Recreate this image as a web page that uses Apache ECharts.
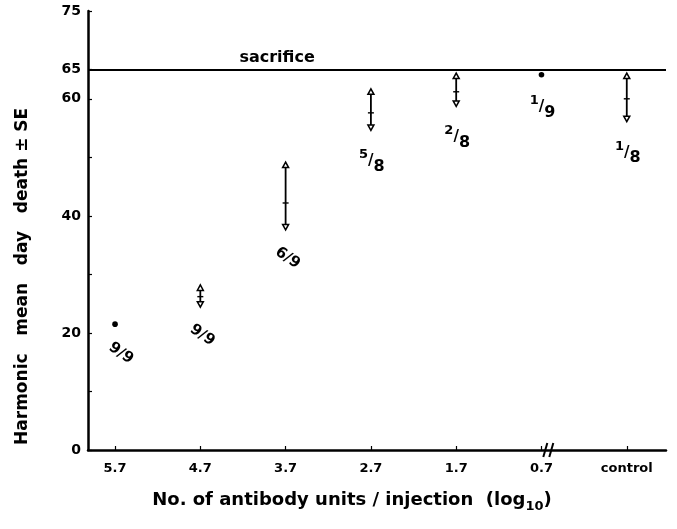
<!DOCTYPE html>
<html>
<head>
<meta charset="utf-8">
<script src="https://cdn.jsdelivr.net/npm/echarts@6/dist/echarts.min.js"></script>
<style>
  html, body { margin: 0; padding: 0; background: #fff; }
  #chart { width: 677px; height: 529px; }
</style>
</head>
<body>
<div id="chart"></div>
<script>
// ---- data ----
const categories = ['5.7', '4.7', '3.7', '2.7', '1.7', '0.7', 'control'];
const meanDay   = [21.5, 26.2, 42.2, 57.6, 61.2, 64.1, 60.0];
const lowSE     = [21.3, 24.4, 37.6, 54.6, 58.7, 63.8, 56.1];
const highSE    = [21.7, 28.2, 49.2, 61.7, 64.4, 64.4, 64.4];
const deadRatio = [['9','9'], ['9','9'], ['6','9'], ['5','8'], ['2','8'], ['1','9'], ['1','8']];
const yTickValues  = [0, 10, 20, 30, 40, 50, 60, 65, 75];
const yLabelValues = [0, 20, 40, 60, 65, 75];
const sacrificeDay = 65;

const FONT = '"DejaVu Sans"';
const chart = echarts.init(document.getElementById('chart'), null, { renderer: 'canvas' });

const seriesData = categories.map((c, i) => [i, meanDay[i], lowSE[i], highSE[i]]);

function renderItem(params, api) {
  const i = api.value(0);
  const top = api.coord([i, api.value(3)]);
  const mid = api.coord([i, api.value(1)]);
  const bot = api.coord([i, api.value(2)]);
  const x = mid[0];
  const children = [];
  const st = { stroke: '#000', lineWidth: 1.8, fill: null };
  if (bot[1] - top[1] < 4) {
    children.push({ type: 'circle', shape: { cx: x, cy: mid[1], r: 2.8 }, style: { fill: '#000' } });
  } else {
    children.push({ type: 'line', shape: { x1: x, y1: top[1] + 2, x2: x, y2: bot[1] - 2 }, style: st });
    children.push({ type: 'polygon', shape: { points: [[x, top[1]], [x - 3, top[1] + 5.5], [x + 3, top[1] + 5.5]] },
      style: { stroke: '#000', lineWidth: 1.5, fill: '#fff' } });
    children.push({ type: 'polygon', shape: { points: [[x, bot[1]], [x - 3, bot[1] - 5.5], [x + 3, bot[1] - 5.5]] },
      style: { stroke: '#000', lineWidth: 1.5, fill: '#fff' } });
    children.push({ type: 'line', shape: { x1: x - 3, y1: mid[1], x2: x + 3, y2: mid[1] }, style: { stroke: '#000', lineWidth: 1.4 } });
  }
  const fr = deadRatio[i];
  if (i < 3) {
    children.push({
      type: 'text',
      x: x + (i === 0 ? 6 : 2), y: bot[1] + 28,
      rotation: -0.6,
      style: { text: fr[0] + '/' + fr[1], fontFamily: FONT, fontWeight: 'bold', fontSize: 15,
        fill: '#000', align: 'center', verticalAlign: 'middle' }
    });
  } else {
    children.push({
      type: 'text',
      x: x + 1, y: bot[1] + 31,
      style: {
        text: '{n|' + fr[0] + '}{s|/}{d|' + fr[1] + '}',
        align: 'center', verticalAlign: 'middle', fill: '#000',
        rich: {
          n: { fontFamily: FONT, fontWeight: 'bold', fontSize: 13, verticalAlign: 'top', lineHeight: 26 },
          s: { fontFamily: FONT, fontWeight: 'bold', fontSize: 15, verticalAlign: 'middle', lineHeight: 26 },
          d: { fontFamily: FONT, fontWeight: 'bold', fontSize: 16, verticalAlign: 'bottom', lineHeight: 26 }
        }
      }
    });
  }
  return { type: 'group', children };
}

const option = {
  animation: false,
  backgroundColor: '#fff',
  grid: { left: 88, right: 11, top: 11, bottom: 79, containLabel: false },
  xAxis: {
    type: 'value',
    min: -0.317, max: 6.46,
    splitLine: { show: false },
    axisLine: { show: true, onZero: false, lineStyle: { color: '#000', width: 2.5 } },
    axisTick: { show: true, inside: true, length: 4, customValues: categories.map((c, i) => i), lineStyle: { color: '#000', width: 1.2 } },
    axisLabel: {
      show: true, customValues: categories.map((c, i) => i), margin: 12,
      formatter: v => categories[Math.round(v)] || '',
      color: '#000', fontFamily: FONT, fontWeight: 'bold', fontSize: 13
    },
    name: 'No. of antibody units / injection  (log{sub|10})',
    nameLocation: 'middle', nameGap: 37,
    nameTextStyle: {
      color: '#000', fontFamily: FONT, fontWeight: 'bold', fontSize: 18, padding: [0, 50, 0, 0],
      rich: { sub: { fontFamily: FONT, fontWeight: 'bold', fontSize: 13, verticalAlign: 'bottom', lineHeight: 26, padding: [10, 0, 0, 0] } }
    }
  },
  yAxis: {
    type: 'value',
    min: 0, max: 75,
    splitLine: { show: false },
    axisLine: { show: true, onZero: false, lineStyle: { color: '#000', width: 2.5 } },
    axisTick: { show: true, inside: true, length: 4, customValues: yTickValues, lineStyle: { color: '#000', width: 1.2 } },
    axisLabel: {
      show: true, customValues: yLabelValues, margin: 7,
      color: '#000', fontFamily: FONT, fontWeight: 'bold', fontSize: 14
    }
  },
  series: [{
    type: 'custom',
    renderItem,
    data: seriesData,
    encode: { x: 0, y: [1, 2, 3] },
    markLine: {
      silent: true, symbol: 'none',
      lineStyle: { color: '#000', width: 2, type: 'solid' },
      label: { show: false },
      data: [{ yAxis: sacrificeDay }]
    }
  }]
};
chart.setOption(option);

// decorations: axis break marks, sacrifice label, y axis title
const brk = chart.convertToPixel({ gridIndex: 0 }, [5.08, 0]);
const sac = chart.convertToPixel({ gridIndex: 0 }, [1.9, sacrificeDay]);
const yMid = chart.convertToPixel({ gridIndex: 0 }, [0, 30]);
chart.setOption({
  graphic: [
    { type: 'line', shape: { x1: brk[0] - 5, y1: brk[1] + 7, x2: brk[0] - 1, y2: brk[1] - 7 }, style: { stroke: '#000', lineWidth: 2 } },
    { type: 'line', shape: { x1: brk[0] + 1, y1: brk[1] + 7, x2: brk[0] + 5, y2: brk[1] - 7 }, style: { stroke: '#000', lineWidth: 2 } },
    { type: 'text', x: sac[0], y: sac[1] - 12,
      style: { text: 'sacrifice', fontFamily: FONT, fontWeight: 'bold', fontSize: 16, fill: '#000', align: 'center', verticalAlign: 'middle' } },
    { type: 'text', x: 23, y: yMid[1] + 2, rotation: Math.PI / 2,
      style: { text: 'Harmonic   mean   day   death \u00B1 SE', fontFamily: FONT, fontWeight: 'bold', fontSize: 17, fill: '#000', align: 'center', verticalAlign: 'middle' } }
  ]
});
</script>
</body>
</html>
